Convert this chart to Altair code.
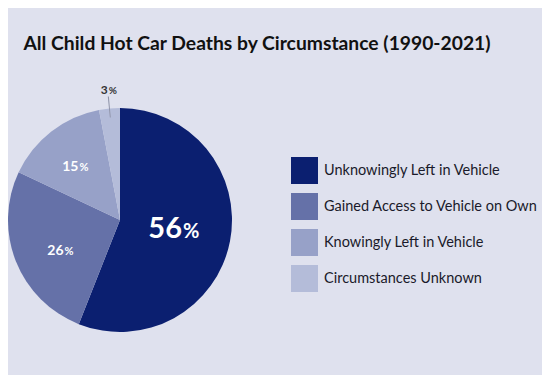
import math
import altair as alt
import pandas as pd

# ---- data ----
categories = [
    "Unknowingly Left in Vehicle",
    "Gained Access to Vehicle on Own",
    "Knowingly Left in Vehicle",
    "Circumstances Unknown",
]
values = [56, 26, 15, 3]
number_labels = ["56", "26", "15", "3"]
colors = ["#0b1f70", "#6571a8", "#97a1c8", "#b4bcd9"]
title_text = "All Child Hot Car Deaths by Circumstance (1990-2021)"

df = pd.DataFrame({
    "category": categories,
    "value": values,
    "num": number_labels,
    "rank": list(range(len(categories))),
})

PAD_TOP = 55
W, H = 534, 367 - PAD_TOP
CX, CY = 112, 212 - PAD_TOP
R = 112
FONT = "Lato"

theta_scale = alt.Scale(domain=[0, 100], range=[0, 2 * math.pi])

base = alt.Chart(df).transform_window(
    cum="sum(value)", sort=[alt.SortField("rank")]
).transform_calculate(
    start="datum.cum - datum.value",
    mid="datum.cum - datum.value / 2",
    lo="datum.cum - datum.value / 2 - 0.07",
    hi="datum.cum - datum.value / 2 + 0.07",
)

pie = base.mark_arc(radius=R, strokeWidth=0).encode(
    theta=alt.Theta("start:Q", scale=theta_scale),
    theta2="cum:Q",
    color=alt.Color(
        "category:N",
        scale=alt.Scale(domain=categories, range=colors),
        legend=alt.Legend(
            title=None, orient="none", legendX=283, legendY=149 - PAD_TOP,
            symbolType="square", symbolSize=729, symbolStrokeWidth=0,
            symbolOpacity=1, labelFontSize=14.5, labelFont=FONT,
            labelColor="#1a1a2a", rowPadding=9, labelOffset=6,
            labelLimit=300, padding=0,
        ),
    ),
    x=alt.value(CX), y=alt.value(CY),
)

leader = base.transform_filter("datum.rank == 3").mark_arc(
    radius=124, radius2=103, color="#8f93a8"
).encode(
    theta=alt.Theta("lo:Q", scale=theta_scale), theta2="hi:Q",
    x=alt.value(CX), y=alt.value(CY),
)

# label settings per slice: rank, radius, num size, pct size, dx_num, dx_pct, dy, color
label_specs = [
    (0, 58, 29, 20, 5, 6, 7, "white"),
    (1, 65, 14, 11, 4, 5, 11, "white"),
    (2, 71, 14, 11, 2, 3, 7, "white"),
    (3, 130, 12, 10, 0, 1, 3, "#333333"),
]
labels = []
for rank, rad, fs_num, fs_pct, dxn, dxp, dy, col in label_specs:
    sub = base.transform_filter(f"datum.rank == {rank}")
    enc = dict(
        theta=alt.Theta("mid:Q", scale=theta_scale),
        radius=alt.value(rad), x=alt.value(CX), y=alt.value(CY),
    )
    labels.append(sub.mark_text(
        font=FONT, fontSize=fs_num, fontWeight="bold", color=col,
        align="right", baseline="alphabetic", dx=dxn, dy=dy,
    ).encode(text="num:N", **enc))
    labels.append(sub.mark_text(
        font=FONT, fontSize=fs_pct, fontWeight="bold", color=col,
        align="left", baseline="alphabetic", dx=dxp, dy=dy,
    ).encode(text=alt.value("%"), **enc))

chart = alt.layer(pie, leader, *labels).properties(
    width=W, height=H,
    autosize=alt.AutoSizeParams(type="none"),
    padding={"left": 0, "top": PAD_TOP, "right": 0, "bottom": 0},
    title=alt.Title(
        title_text, font=FONT, fontSize=19.3, fontWeight="bold",
        color="#111111", anchor="middle", dx=-18, offset=-6,
        baseline="alphabetic",
    ),
).configure(background="#dfe1ee").configure_view(stroke=None)

chart.save("out.html", embed_options={"renderer": "svg", "actions": False})
